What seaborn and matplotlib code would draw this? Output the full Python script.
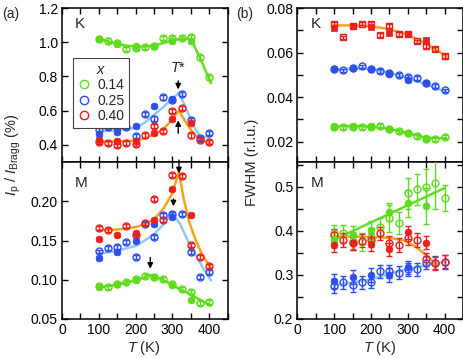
import numpy as np
import pandas as pd
import matplotlib
matplotlib.use("Agg")
import matplotlib.pyplot as plt
from matplotlib.lines import Line2D
from matplotlib.ticker import MultipleLocator
import seaborn as sns

sns.set_style("ticks")
plt.rcParams['font.family'] = ['Liberation Sans', 'DejaVu Sans']
plt.rcParams['mathtext.fontset'] = 'custom'
plt.rcParams['mathtext.it'] = 'Liberation Sans:italic'
plt.rcParams['mathtext.rm'] = 'Liberation Sans'
plt.rcParams['font.size'] = 10

nan = np.nan
# ---------------- data ----------------
T_open = [100, 125, 150, 175, 200, 225, 250, 275, 300, 325, 350, 375, 400]
T_fill = [100, 150, 200, 250, 300, 350]
compositions = ["0.14", "0.25", "0.40"]

# (a) K : Ip/IBragg (%)
aK_open = {
    "0.14": [1.02, 1.01, 0.996, 0.962, 0.966, 0.97, 0.98, 1.026, 1.026, 1.026, 1.03, 0.911, 0.794],
    "0.25": [0.487, 0.505, 0.505, 0.505, 0.451, 0.58, 0.554, 0.677, 0.662, 0.699, 0.547, 0.442, 0.467],
    "0.40": [0.416, 0.412, 0.40, 0.41, 0.408, 0.455, 0.51, 0.48, 0.60, 0.614, 0.455, 0.428, 0.416],
}
aK_fill = {
    "0.14": [1.02, 0.99, 0.98, 0.975, 1.01, 1.006],
    "0.25": [0.461, 0.475, 0.511, 0.626, 0.669, nan],
    "0.40": [0.426, 0.42, 0.42, 0.47, 0.55, 0.527],
}
# (a) M
aM_open = {
    "0.14": [0.0915, 0.091, 0.095, 0.097, 0.101, 0.105, 0.103, 0.101, 0.094, 0.088, 0.085, 0.070, 0.072],
    "0.25": [0.136, 0.140, 0.142, 0.148, 0.129, 0.171, 0.154, 0.182, 0.184, 0.184, 0.135, 0.104, 0.110],
    "0.40": [0.166, 0.163, nan, 0.169, 0.157, 0.172, 0.203, 0.176, 0.233, 0.232, 0.144, 0.129, 0.117],
}
aM_fill = {
    "0.14": [0.091, 0.094, 0.100, 0.104, 0.093, 0.074],
    "0.25": [0.128, 0.135, 0.150, 0.171, 0.180, nan],
    "0.40": [0.152, 0.157, 0.160, 0.176, 0.215, 0.183],
}
# (b) K : FWHM (r.l.u.)
bK_open = {
    "0.14": [0.0265, 0.0265, 0.0267, 0.0267, 0.0267, 0.027, 0.0258, 0.0248, 0.0237, 0.0225, 0.021, 0.0212, 0.022],
    "0.25": [0.0526, 0.052, 0.0533, 0.0538, 0.0527, 0.0518, 0.051, 0.050, 0.049, 0.0485, 0.0463, 0.045, 0.043],
    "0.40": [0.073, 0.0668, 0.072, 0.073, 0.073, 0.068, 0.0718, 0.0683, 0.0683, 0.065, 0.063, 0.0615, 0.0585],
}
bK_fill = {
    "0.14": [0.027, 0.027, 0.027, 0.0255, 0.0237, 0.0215],
    "0.25": [0.0528, 0.0533, 0.0527, 0.0505, 0.0478, 0.0463],
    "0.40": [0.071, 0.072, 0.0715, 0.0688, 0.0683, 0.0655],
}
# (b) M
bM_open = {
    "0.14": [0.394, 0.394, 0.378, 0.375, 0.387, 0.409, 0.428, 0.417, 0.485, 0.494, 0.50, 0.509, 0.474],
    "0.25": [0.275, 0.283, 0.277, 0.283, 0.285, 0.308, 0.308, 0.305, 0.313, 0.313, 0.328, 0.328, 0.33],
    "0.40": [0.39, 0.379, 0.372, 0.378, 0.379, 0.394, 0.373, 0.368, 0.383, 0.379, 0.335, 0.326, 0.329],
}
bM_fill = {
    "0.14": [0.381, 0.39, 0.402, 0.443, 0.462, 0.456],
    "0.25": [0.286, 0.295, 0.30, 0.30, 0.317, nan],
    "0.40": [0.368, 0.372, 0.37, 0.358, 0.397, 0.373],
}
bM_open_err = {
    "0.14": [0.02, 0.02, 0.02, 0.02, 0.02, 0.02, 0.03, 0.025, 0.035, 0.035, 0.04, 0.06, 0.03],
    "0.25": [0.015] * 13,
    "0.40": [0.015] * 13,
}
bM_fill_err = {
    "0.14": [0.02, 0.02, 0.02, 0.02, 0.03, 0.04],
    "0.25": [0.015] * 6,
    "0.40": [0.015] * 6,
}

# guide-to-eye lines
aK_fit = {
    "0.14": ([100, 125, 150, 175, 200, 225, 250, 275, 300, 325, 345, 355, 375, 405],
             [1.02, 1.005, 0.99, 0.98, 0.975, 0.975, 0.98, 0.995, 1.01, 1.02, 1.02, 1.0, 0.91, 0.76]),
    "0.25": ([100, 150, 200, 225, 250, 275, 300, 318, 340, 360, 375, 400],
             [0.48, 0.485, 0.50, 0.53, 0.575, 0.62, 0.67, 0.705, 0.60, 0.50, 0.45, 0.445]),
    "0.40": ([100, 150, 200, 225, 250, 275, 300, 318, 340, 360, 380, 405],
             [0.42, 0.42, 0.425, 0.44, 0.46, 0.49, 0.55, 0.60, 0.52, 0.46, 0.43, 0.405]),
}
aM_fit = {
    "0.14": ([100, 150, 200, 240, 270, 300, 350, 405],
             [0.090, 0.094, 0.099, 0.106, 0.101, 0.093, 0.081, 0.067]),
    "0.25": ([100, 150, 200, 225, 250, 275, 298, 320, 350, 380, 405],
             [0.133, 0.137, 0.143, 0.150, 0.158, 0.170, 0.186, 0.172, 0.142, 0.118, 0.099]),
    "0.40": ([100, 150, 200, 225, 250, 275, 300, 318, 330, 345, 360, 380, 405],
             [0.163, 0.164, 0.167, 0.171, 0.177, 0.19, 0.21, 0.238, 0.205, 0.175, 0.155, 0.133, 0.115]),
}
bK_fit = {
    "0.14": ([100, 150, 200, 250, 300, 350, 405], [0.027, 0.027, 0.0268, 0.0258, 0.0238, 0.0218, 0.0215]),
    "0.25": ([100, 150, 200, 250, 300, 350, 405], [0.0522, 0.0528, 0.0527, 0.051, 0.0485, 0.0458, 0.0422]),
    "0.40": ([100, 150, 200, 250, 300, 350, 405], [0.0722, 0.0722, 0.0718, 0.0705, 0.068, 0.064, 0.0583]),
}
bM_fit = {
    "0.14": ([100, 400], [0.38, 0.497]),
    "0.25": ([100, 150, 200, 250, 300, 350, 400], [0.277, 0.283, 0.29, 0.303, 0.313, 0.322, 0.33]),
    "0.40": ([100, 150, 200, 250, 290, 320, 350, 380], [0.386, 0.387, 0.386, 0.384, 0.378, 0.365, 0.345, 0.322]),
}

mcol = {"0.14": "#5ddc1c", "0.25": "#2e4ff0", "0.40": "#ee1f1f"}
lcol = {"0.14": "#66dd22", "0.25": "#8fcbf2", "0.40": "#f7a320"}

# ---------------- figure ----------------
fig = plt.figure(figsize=(4.64, 3.58), dpi=100)
W, H = 464.0, 358.0
def ax_at(x0, y0, x1, y1):
    return fig.add_axes([x0 / W, 1 - y1 / H, (x1 - x0) / W, (y1 - y0) / H])

axAK = ax_at(62, 8, 227.5, 162)
axAM = ax_at(62, 162, 227.5, 319)
axBK = ax_at(297.5, 8, 463, 162)
axBM = ax_at(297.5, 162, 463, 319)


def draw(ax, opn, fil, fit, err_o=None, err_f=None, const_err=0.0, square_for=None):
    for c in compositions:
        xs, ys = fit[c]
        sns.lineplot(x=xs, y=ys, ax=ax, color=lcol[c], lw=1.8, zorder=2, sort=False)
    for c in compositions:
        mk = 's' if (square_for == c) else 'o'
        sz = 20 if mk == 's' else 24
        eo = err_o[c] if err_o else [const_err] * len(T_open)
        ef = err_f[c] if err_f else [const_err] * len(T_fill)
        ax.errorbar(T_open, opn[c], yerr=eo, fmt=mk, mfc='none', mec=mcol[c], ecolor=mcol[c],
                    ms=5, mew=1.0, elinewidth=1.0, capsize=2.5, capthick=1.0, zorder=3)
        df = pd.DataFrame({"T": T_fill, "v": fil[c]})
        ax.errorbar(T_fill, fil[c], yerr=ef, fmt='none', ecolor=mcol[c],
                    elinewidth=1.0, capsize=2.5, capthick=1.0, zorder=3)
        sns.scatterplot(data=df, x="T", y="v", ax=ax, marker=mk, color=mcol[c], s=sz,
                        edgecolor=mcol[c], linewidth=0.5, zorder=4, legend=False)


draw(axAK, aK_open, aK_fill, aK_fit, const_err=0.012)
draw(axAM, aM_open, aM_fill, aM_fit, const_err=0.0025)
draw(axBK, bK_open, bK_fill, bK_fit, const_err=0.0008, square_for="0.40")
draw(axBM, bM_open, bM_fill, bM_fit, err_o=bM_open_err, err_f=bM_fill_err)

for ax in (axAK, axAM, axBK, axBM):
    ax.set_xlim(0, 450)
    ax.xaxis.set_major_locator(MultipleLocator(100))
    ax.xaxis.set_minor_locator(MultipleLocator(50))
    ax.tick_params(which='both', direction='in', top=True, right=True, length=4, width=1.0,
                   labelsize=10, pad=3, colors='black')
    for s in ax.spines.values():
        s.set_linewidth(1.1)
        s.set_color('black')
    ax.set_xlabel("")
    ax.set_ylabel("")

for ax in (axAK, axBK):
    ax.tick_params(labelbottom=False)

axAK.set_ylim(0.30, 1.2)
axAK.set_yticks([0.4, 0.6, 0.8, 1.0, 1.2])
axAK.set_yticklabels(["0.4", "0.6", "0.8", "1.0", "1.2"])
axAM.set_ylim(0.05, 0.25)
axAM.set_yticks([0.05, 0.10, 0.15, 0.20])
axAM.set_yticklabels(["0.05", "0.10", "0.15", "0.20"])
axBK.set_ylim(0.0109, 0.08)
axBK.set_yticks([0.02, 0.04, 0.06, 0.08])
axBK.set_yticklabels(["0.02", "0.04", "0.06", "0.08"])
axBK.yaxis.set_minor_locator(MultipleLocator(0.01))
axBM.set_ylim(0.2, 0.556)
axBM.set_yticks([0.2, 0.3, 0.4, 0.5])
axBM.set_yticklabels(["0.2", "0.3", "0.4", "0.5"])
axBM.yaxis.set_minor_locator(MultipleLocator(0.05))

for ax in (axAM, axBM):
    ax.set_xticks([0, 100, 200, 300, 400])
    ax.set_xticklabels(["0", "100", "200", "300", "400"])

# panel letters
for ax in (axAK, axBK):
    ax.text(0.08, 0.87, "K", transform=ax.transAxes, fontsize=11)
for ax in (axAM, axBM):
    ax.text(0.08, 0.84, "M", transform=ax.transAxes, fontsize=11)

fig.text(2 / W, 1 - 14 / H, "(a)", fontsize=10, va='center')
fig.text(236 / W, 1 - 14 / H, "(b)", fontsize=10, va='center')

fig.text(144 / W, 1 - 348 / H, r"$T$ (K)", ha='center', va='center', fontsize=10.5)
fig.text(380 / W, 1 - 348 / H, r"$T$ (K)", ha='center', va='center', fontsize=10.5)
fig.text(13 / W, 1 - 155 / H, r"$I_\mathrm{p}$ / $I_\mathrm{Bragg}$ (%)", rotation=90,
         ha='center', va='center', fontsize=10.5)
fig.text(252 / W, 1 - 162 / H, "FWHM (r.l.u.)", rotation=90, ha='center', va='center', fontsize=10.5)

# arrows
arr = dict(arrowstyle='-|>', color='black', lw=1.0, mutation_scale=8)
axAK.annotate("", xy=(316, 0.708), xytext=(316, 0.79), arrowprops=arr)
axAK.annotate("", xy=(316, 0.56), xytext=(316, 0.452), arrowprops=arr)
axAK.text(316, 0.81, r"$T$*", ha='center', va='bottom', fontsize=10.5)
axAM.annotate("", xy=(318, 0.232), xytext=(318, 0.256), arrowprops=arr, annotation_clip=False)
axAM.annotate("", xy=(303, 0.190), xytext=(303, 0.2065), arrowprops=arr)
axAM.annotate("", xy=(240, 0.1105), xytext=(240, 0.132), arrowprops=arr)

# legend
handles = [Line2D([], [], ls='none', marker='o', mfc='none', mec=mcol[c], ms=6, mew=1.0)
           for c in compositions]
leg = axAK.legend(handles, compositions, title=r"$x$", loc='upper left',
                  bbox_to_anchor=(0.066, 0.675), fontsize=10, title_fontsize=10.5,
                  frameon=True, fancybox=False, edgecolor='#444444', framealpha=1,
                  handlelength=0.9, handletextpad=0.5, borderpad=0.35, labelspacing=0.1,
                  borderaxespad=0)
leg.get_frame().set_linewidth(0.8)

fig.savefig("out.png", dpi=100)
